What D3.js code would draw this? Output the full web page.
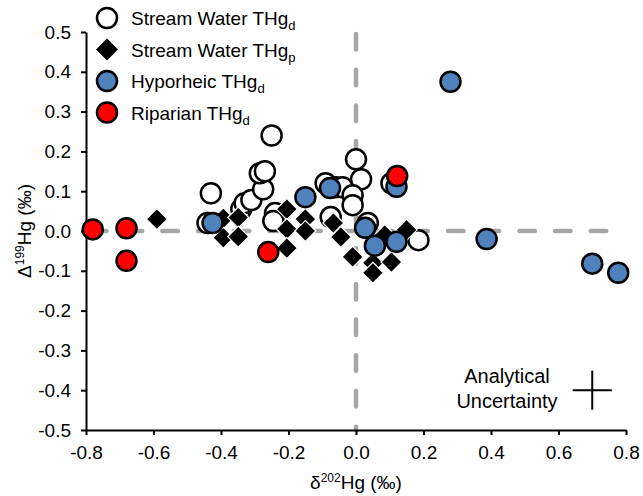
<!DOCTYPE html>
<html>
<head>
<meta charset="utf-8">
<script src="https://cdn.jsdelivr.net/npm/d3@7"></script>
<style>
  body { margin: 0; background: #fff; }
  text { font-family: Arial, "Liberation Sans", sans-serif; fill: #000; }
</style>
</head>
<body>
<svg id="chart"></svg>
<script>
// Stream Water THg_d (open circles)
const swDissX = [-0.44, -0.43, -0.34, -0.33, -0.31, -0.275, -0.285, -0.27, -0.25, -0.24, -0.245,
                 -0.09, -0.06, -0.075, -0.04, 0.0, 0.015, -0.01, -0.01, 0.035, 0.105, 0.185];
const swDissY = [0.02, 0.095, 0.055, 0.07, 0.078, 0.105, 0.145, 0.15, 0.24, 0.045, 0.025,
                 0.12, 0.11, 0.035, 0.11, 0.18, 0.13, 0.09, 0.065, 0.02, 0.12, -0.023];

// Stream Water THg_p (diamonds)
const swPartX = [-0.59, -0.393, -0.349, -0.393, -0.349, -0.205, -0.205, -0.15, -0.15, -0.205,
                 -0.067, -0.045, -0.01, 0.05, 0.05, 0.105, 0.085, 0.15];
const swPartY = [0.03, 0.032, 0.034, -0.017, -0.014, 0.055, 0.005, 0.03, 0.0, -0.043,
                 0.02, -0.015, -0.065, -0.08, -0.105, -0.078, -0.01, 0.003];

// Hyporheic THg_d
const hypX = [-0.425, -0.15, -0.077, 0.027, 0.056, 0.12, 0.12, 0.28, 0.387, 0.70, 0.777];
const hypY = [0.02, 0.085, 0.108, 0.008, -0.037, -0.027, 0.111, 0.375, -0.02, -0.082, -0.105];

// Riparian THg_d
const ripX = [-0.78, -0.68, -0.68, -0.26, 0.122];
const ripY = [0.004, 0.007, -0.075, -0.053, 0.138];

const xTicks = [-0.8, -0.6, -0.4, -0.2, 0.0, 0.2, 0.4, 0.6, 0.8];
const yTicks = [-0.5, -0.4, -0.3, -0.2, -0.1, 0.0, 0.1, 0.2, 0.3, 0.4, 0.5];

// analytical uncertainty cross: centre and half-widths
const uncCenter = [0.70, -0.40];
const uncHalf = [0.058, 0.049];

const width = 643, height = 496;
const svg = d3.select('#chart').attr('width', width).attr('height', height);

const x = d3.scaleLinear().domain([-0.8, 0.8]).range([86, 626]);
const y = d3.scaleLinear().domain([-0.5, 0.5]).range([430, 32]);

const fmt = d => d.toFixed(1);

// zero reference lines
const dash = g => g.attr('stroke', '#a6a6a6').attr('stroke-width', 4.5)
    .attr('stroke-linecap', 'round').attr('stroke-dasharray', '15.5,20.2').attr('fill', 'none');
svg.append('line')
    .attr('x1', x(-0.8) + 5).attr('x2', x(0.8)).attr('y1', y(0)).attr('y2', y(0))
    .call(dash);
svg.append('line')
    .attr('x1', x(0)).attr('x2', x(0)).attr('y1', y(0.5) + 2).attr('y2', y(-0.5))
    .call(dash);

// axes
const yAxis = svg.append('g')
    .attr('transform', `translate(${x(-0.8)},0)`)
    .call(d3.axisLeft(y).tickValues(yTicks).tickFormat(fmt).tickSize(5).tickSizeOuter(0).tickPadding(10));
const xAxis = svg.append('g')
    .attr('transform', `translate(0,${y(-0.5)})`)
    .call(d3.axisBottom(x).tickValues(xTicks).tickFormat(fmt).tickSize(5).tickSizeOuter(0).tickPadding(11));
[xAxis, yAxis].forEach(a => {
    a.select('.domain').attr('stroke', '#000').attr('stroke-width', 2);
    a.selectAll('.tick line').attr('stroke', '#000').attr('stroke-width', 2);
    a.selectAll('.tick text').style('font-size', '19px')
        .style('font-family', 'Arial, "Liberation Sans", sans-serif').attr('fill', '#000');
});

// axis titles
const xt = svg.append('text').attr('x', x(0)).attr('y', 489)
    .attr('text-anchor', 'middle').style('font-size', '19px');
xt.append('tspan').text('δ');
xt.append('tspan').text('202').style('font-size', '12px').attr('dy', -7);
xt.append('tspan').text('Hg (‰)').attr('dy', 7);

const yt = svg.append('text')
    .attr('transform', `translate(31,${y(0)}) rotate(-90)`)
    .attr('text-anchor', 'middle').style('font-size', '19px');
yt.append('tspan').text('Δ');
yt.append('tspan').text('199').style('font-size', '12px').attr('dy', -7);
yt.append('tspan').text('Hg (‰)').attr('dy', 7);

// markers
const diamond = r => `M0,${-r}L${r},0L0,${r}L${-r},0Z`;

const circles = (xs, ys, fill) => {
    svg.append('g').selectAll('circle')
        .data(xs.map((v, i) => [v, ys[i]]))
        .join('circle')
        .attr('cx', d => x(d[0])).attr('cy', d => y(d[1])).attr('r', 10)
        .attr('fill', fill).attr('stroke', '#000').attr('stroke-width', 2.5);
};

circles(swDissX, swDissY, '#fff');

svg.append('g').selectAll('path')
    .data(swPartX.map((v, i) => [v, swPartY[i]]))
    .join('path')
    .attr('transform', d => `translate(${x(d[0])},${y(d[1])})`)
    .attr('d', diamond(10.5))
    .attr('fill', '#000').attr('stroke', '#fff').attr('stroke-width', 1.2);

circles(hypX, hypY, '#4f81bd');
circles(ripX, ripY, '#ff0000');

// analytical uncertainty
const unc = svg.append('g').attr('stroke', '#000').attr('stroke-width', 2);
unc.append('line')
    .attr('x1', x(uncCenter[0] - uncHalf[0])).attr('x2', x(uncCenter[0] + uncHalf[0]))
    .attr('y1', y(uncCenter[1])).attr('y2', y(uncCenter[1]));
unc.append('line')
    .attr('x1', x(uncCenter[0])).attr('x2', x(uncCenter[0]))
    .attr('y1', y(uncCenter[1] - uncHalf[1])).attr('y2', y(uncCenter[1] + uncHalf[1]));
svg.append('text').attr('x', 507).attr('y', 383).attr('text-anchor', 'middle')
    .style('font-size', '20px').text('Analytical');
svg.append('text').attr('x', 507).attr('y', 408).attr('text-anchor', 'middle')
    .style('font-size', '20px').text('Uncertainty');

// legend
const legendItems = [
    { main: 'Stream Water THg', sub: 'd', shape: 'circle', fill: '#fff' },
    { main: 'Stream Water THg', sub: 'p', shape: 'diamond', fill: '#000' },
    { main: 'Hyporheic THg', sub: 'd', shape: 'circle', fill: '#4f81bd' },
    { main: 'Riparian THg', sub: 'd', shape: 'circle', fill: '#ff0000' }
];
const legend = svg.append('g');
legendItems.forEach((it, i) => {
    const cy = 18 + i * 31.5;
    if (it.shape === 'circle') {
        legend.append('circle').attr('cx', 107).attr('cy', cy).attr('r', 10)
            .attr('fill', it.fill).attr('stroke', '#000').attr('stroke-width', 2.5);
    } else {
        legend.append('path').attr('transform', `translate(107,${cy})`)
            .attr('d', diamond(11)).attr('fill', '#000');
    }
    const t = legend.append('text').attr('x', 131).attr('y', cy + 7).style('font-size', '19px');
    t.append('tspan').text(it.main);
    t.append('tspan').text(it.sub).style('font-size', '13px').attr('dy', 5);
});
</script>
</body>
</html>
